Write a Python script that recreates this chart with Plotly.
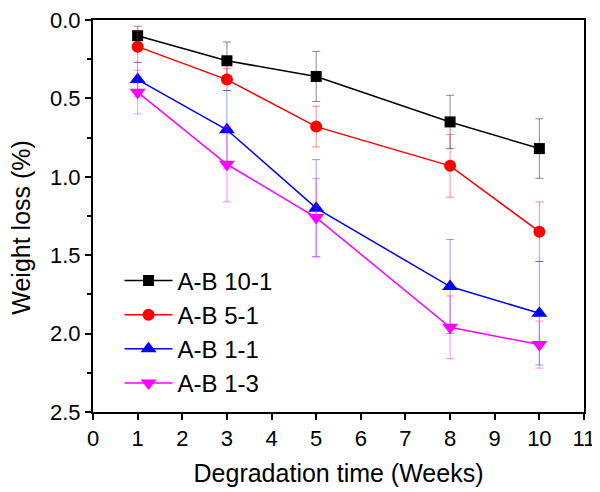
import plotly.graph_objects as go

weeks = [1, 3, 5, 8, 10]
names = ["A-B 10-1", "A-B 5-1", "A-B 1-1", "A-B 1-3"]
ab_10_1 = [0.10, 0.26, 0.36, 0.65, 0.82]
ab_10_1_err = [0.06, 0.12, 0.16, 0.17, 0.19]
ab_5_1 = [0.17, 0.38, 0.68, 0.93, 1.35]
ab_5_1_err = [0.10, 0.07, 0.13, 0.20, 0.19]
ab_1_1 = [0.38, 0.70, 1.20, 1.70, 1.87]
ab_1_1_err = [0.11, 0.25, 0.31, 0.30, 0.33]
ab_1_3 = [0.46, 0.92, 1.26, 1.96, 2.07]
ab_1_3_err = [0.14, 0.24, 0.25, 0.20, 0.15]

series = [
    (names[0], ab_10_1, ab_10_1_err, "black", "rgba(0,0,0,0.45)", "square", 11),
    (names[1], ab_5_1, ab_5_1_err, "red", "rgba(255,0,0,0.45)", "circle", 12),
    (names[2], ab_1_1, ab_1_1_err, "blue", "rgba(0,0,255,0.4)", "triangle-up", 14),
    (names[3], ab_1_3, ab_1_3_err, "magenta", "rgba(255,0,255,0.45)", "triangle-down", 14),
]

fig = go.Figure()
for name, vals, errs, col, ecol, sym, sz in series:
    fig.add_trace(go.Scatter(
        x=weeks, y=vals, name=name, mode="lines+markers",
        line=dict(color=col, width=1.5),
        marker=dict(symbol=sym, size=sz, color=col),
        error_y=dict(type="data", array=errs, visible=True,
                     color=ecol, thickness=1, width=4),
    ))

font_family = "Liberation Sans, Arial, sans-serif"
# page body has an 8px margin, so the figure is 592x484 drawn at (8, 8)
fig.update_layout(
    width=592, height=484,
    margin=dict(l=85, r=16, t=12, b=80),
    paper_bgcolor="white", plot_bgcolor="white",
    font=dict(family=font_family, color="black"),
    showlegend=True,
    legend=dict(x=0.054, y=0.392, xanchor="left", yanchor="top",
                font=dict(size=24, family=font_family),
                itemwidth=48,
                bgcolor="rgba(0,0,0,0)", tracegroupgap=0),
    annotations=[dict(text="Weight loss (%)", textangle=-90,
                      xref="paper", yref="paper", x=-0.146, y=0.471,
                      xanchor="center", yanchor="middle", showarrow=False,
                      font=dict(size=25, family=font_family))],
)
fig.update_xaxes(
    range=[0, 11], tickmode="linear", tick0=0, dtick=1,
    ticks="outside", ticklen=6, tickwidth=1.5, tickcolor="black",
    showline=True, linecolor="black", linewidth=2, mirror=True,
    showgrid=False, zeroline=False, automargin=False,
    ticklabeloverflow="allow",
    tickfont=dict(size=22),
    title=dict(text="Degradation time (Weeks)", font=dict(size=25), standoff=14),
)
fig.update_yaxes(
    range=[2.5, 0], tickmode="array",
    tickvals=[0, 0.5, 1.0, 1.5, 2.0, 2.5],
    ticktext=["0.0", "0.5", "1.0", "1.5", "2.0", "2.5"],
    ticks="outside", ticklen=6, tickwidth=1.5, tickcolor="black",
    minor=dict(tickvals=[0.25, 0.75, 1.25, 1.75, 2.25], ticks="outside",
               ticklen=4, tickwidth=1.5, tickcolor="black"),
    showline=True, linecolor="black", linewidth=2, mirror=True,
    showgrid=False, zeroline=False, automargin=False,
    ticklabeloverflow="allow",
    tickfont=dict(size=22),
)

fig.write_html("out.html")
